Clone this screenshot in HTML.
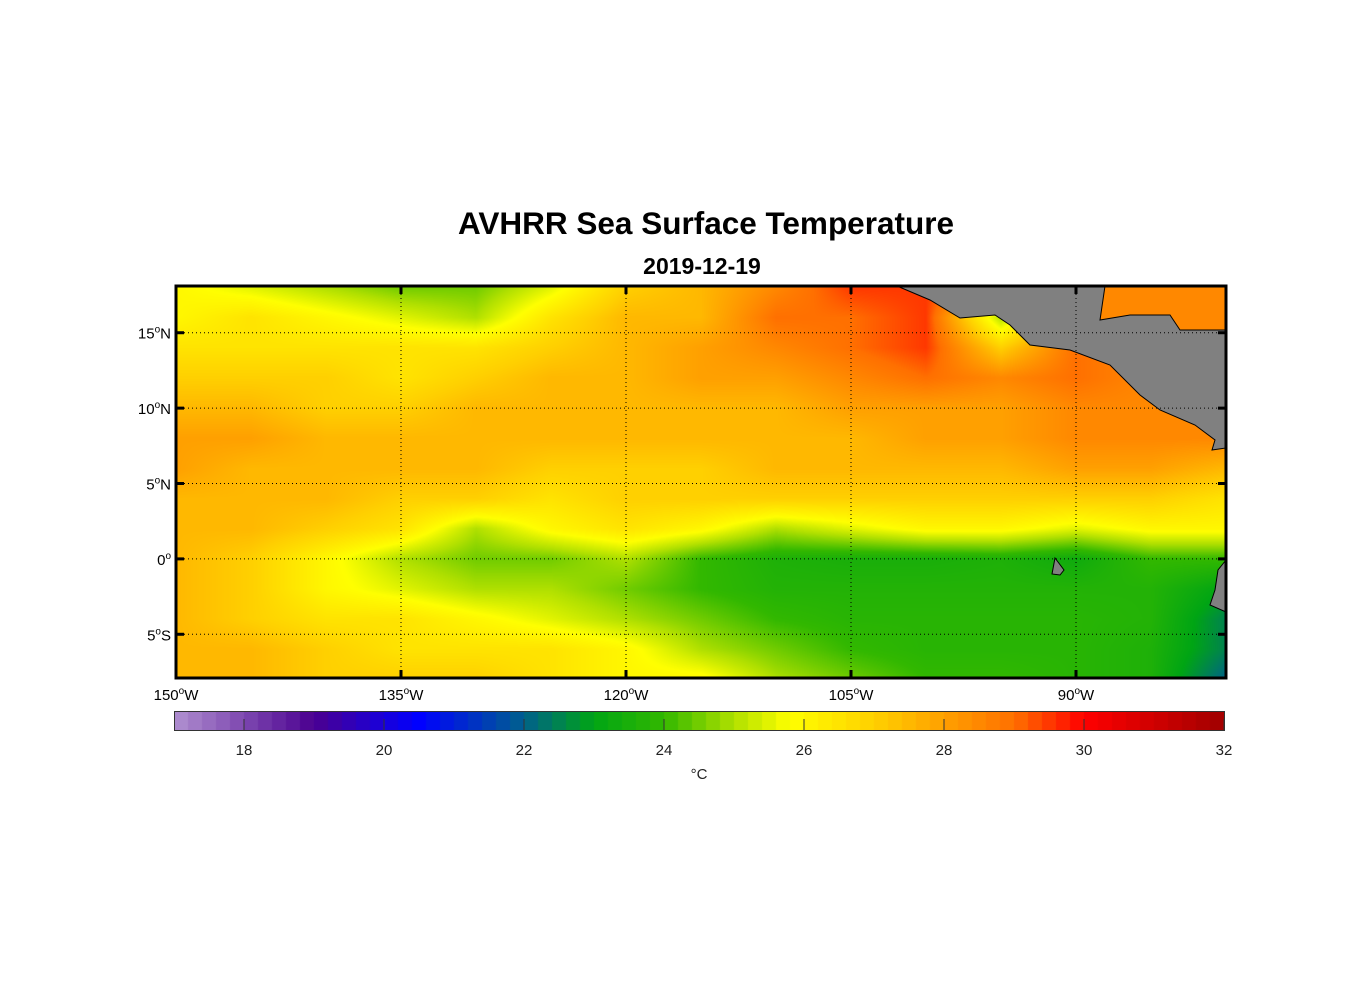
<!DOCTYPE html>
<html><head><meta charset="utf-8">
<style>
body{margin:0;background:#fff;width:1356px;height:1000px;position:relative;font-family:"Liberation Sans",Arial,sans-serif;overflow:hidden}
.t{position:absolute;color:#000}
</style></head><body>
<div class="t" style="left:0;width:1412px;text-align:center;top:205px;font-size:31.5px;font-weight:bold">AVHRR Sea Surface Temperature</div>
<div class="t" style="left:0;width:1404px;text-align:center;top:253px;font-size:23px;font-weight:bold">2019-12-19</div>
<canvas id="map" width="1050" height="392" style="position:absolute;left:176px;top:286px"></canvas>
<canvas id="cb" width="1050" height="19" style="position:absolute;left:174px;top:711px"></canvas>
<svg id="ov" width="1356" height="1000" style="position:absolute;left:0;top:0"></svg>
<script>
const lats=[18,16,14,12,10,8,6,4,2,0,-2,-4,-6,-8];
const lons=[-150,-145,-140,-135,-130,-125,-120,-115,-110,-105,-100,-95,-90,-85,-80];
const sst=[
[26,25.5,25,24.5,24.5,25.5,27,27.5,28.5,29.5,29.5,28.5,28.5,28.5,28.5],
[26,26.5,26,25.5,25,26.5,27.5,27.5,29,29,29.5,25,28.5,28.5,28.5],
[26.5,26.5,26.5,26.5,26.5,27,27.5,28,28.5,29,29.5,27,29,28.5,28.5],
[27,27,27,26.5,27,27.5,27.5,28,28,28.5,29,28.5,29,28.5,28],
[27.5,27.5,27,27,27.5,27.5,27.5,27.5,27.5,28,28,28,28.5,28.5,28.5],
[28,28,27.5,27.5,27.5,27.5,27.5,27.5,27.5,27.5,28,28,28.5,28.5,28.5],
[28,27.5,27.5,27.5,27.5,27,27,27,27.5,27.5,27.5,27.5,28,28,27.5],
[27.5,27.5,27.5,27,27,26.5,27,27,27,27,27,27,27,27,26.5],
[27.5,27.5,27,26.5,25,26,26.5,26,25,25.5,26,26,25.5,26,26],
[27.5,27,26,25,24.5,24.5,25,24,23.6,23.5,23.5,23.6,23.3,24,24],
[27.5,27,26,25.5,25,25,24.5,24,23.7,23.7,23.7,23.7,23.7,23.7,23],
[27.5,27,26.5,26.5,26,25.5,25,24.5,24,23.8,23.8,23.8,23.8,23.7,22.5],
[27.5,27.5,27,26.5,26.5,26.5,26,25,24.5,24,23.8,23.8,23.8,23.6,22.5],
[27.5,27.5,27,27,27,26.5,26,26,25,24.5,24,24,23.8,23.6,22]];
const cbTicks=[18,20,22,24,26,28,30,32];
const lonTicks=[-150,-135,-120,-105,-90];
const latTicks=[15,10,5,0,-5];
const stops=[[17,[176,144,208]],[19,[75,0,144]],[20.5,[0,0,255]],[22,[0,96,140]],[23,[0,165,20]],[24,[50,184,0]],[25,[176,224,0]],[25.8,[255,255,0]],[27,[255,208,0]],[28,[255,160,0]],[29,[255,112,0]],[30,[255,0,0]],[32,[160,0,0]]];
function cmap(v){if(v<=stops[0][0])return stops[0][1];for(let i=1;i<stops.length;i++){if(v<=stops[i][0]){const a=stops[i-1],b=stops[i],t=(v-a[0])/(b[0]-a[0]);return a[1].map((c,k)=>Math.round(c+(b[1][k]-c)*t));}}return stops[stops.length-1][1];}
const X0=176,X1=1226,Y0=286,Y1=678,LON0=-150,LON1=-80,LAT0=18.1,LAT1=-7.9;
const xS=l=>X0+(l-LON0)/(LON1-LON0)*(X1-X0);
const yS=l=>Y0+(LAT0-l)/(LAT0-LAT1)*(Y1-Y0);
(function(){const c=document.getElementById('map').getContext('2d');const W=1050,H=392;const img=c.createImageData(W,H);
for(let py=0;py<H;py++){const lat=LAT0-(py+.5)/H*(LAT0-LAT1);let fy=(lats[0]-lat)/(lats[0]-lats[1]);fy=Math.max(0,Math.min(lats.length-1.001,fy));const r=Math.floor(fy),ty=fy-r;
for(let px=0;px<W;px++){const lon=LON0+(px+.5)/W*(LON1-LON0);let fx=(lon-lons[0])/(lons[1]-lons[0]);fx=Math.max(0,Math.min(lons.length-1.001,fx));const q=Math.floor(fx),tx=fx-q;
const v=(sst[r][q]*(1-tx)+sst[r][q+1]*tx)*(1-ty)+(sst[r+1][q]*(1-tx)+sst[r+1][q+1]*tx)*ty;const col=cmap(v);const i=(py*W+px)*4;img.data[i]=col[0];img.data[i+1]=col[1];img.data[i+2]=col[2];img.data[i+3]=255;}}
c.putImageData(img,0,0);
const b=document.getElementById('cb').getContext('2d');const n=75;for(let k=0;k<n;k++){const v=17+(k+.5)*15/n;const col=cmap(v);b.fillStyle='rgb('+col.join(',')+')';b.fillRect(Math.floor(k*1050/n),0,Math.ceil(1050/n)+1,19);}})();
const NS='http://www.w3.org/2000/svg';const ov=document.getElementById('ov');
function el(t,a,p){const e=document.createElementNS(NS,t);for(const k in a)e.setAttribute(k,a[k]);(p||ov).appendChild(e);return e;}
let g=el('path',{d:'M897 286 L930 300 L960 318 L995 315 L1010 325 L1030 345 L1070 350 L1110 365 L1140 395 L1160 410 L1195 425 L1215 440 L1212 450 L1226 448 L1226 330 L1180 330 L1170 315 L1130 315 L1100 320 L1105 286 Z',fill:'#808080',stroke:'#000','stroke-width':1});


g=el('path',{d:'M1226 560 L1218 570 L1215 590 L1210 605 L1226 612 Z',fill:'#808080',stroke:'#000','stroke-width':1});


g=el('path',{d:'M1055 558 L1064 570 L1060 575 L1052 574 Z',fill:'#808080',stroke:'#000','stroke-width':1});


lonTicks.forEach(l=>{const x=xS(l);
let e=el('line',{x1:x,x2:x,y1:Y0,y2:Y1,stroke:'#000','stroke-width':1,'stroke-dasharray':'1,3'});


el('line',{x1:x,x2:x,y1:Y0,y2:Y0+8,stroke:'#000','stroke-width':3});el('line',{x1:x,x2:x,y1:Y1,y2:Y1-8,stroke:'#000','stroke-width':3});
const t=el('text',{x:x,y:700,'font-size':15,'text-anchor':'middle','font-family':'Liberation Sans'});t.innerHTML=Math.abs(l)+'<tspan dy="-6" font-size="10">o</tspan><tspan dy="6">W</tspan>';

});
latTicks.forEach(l=>{const y=yS(l);
let e=el('line',{x1:X0,x2:X1,y1:y,y2:y,stroke:'#000','stroke-width':1,'stroke-dasharray':'1,3'});


el('line',{x1:X0,x2:X0+8,y1:y,y2:y,stroke:'#000','stroke-width':3});el('line',{x1:X1,x2:X1-8,y1:y,y2:y,stroke:'#000','stroke-width':3});
const t=el('text',{x:171,y:y+6,'font-size':15,'text-anchor':'end','font-family':'Liberation Sans'});t.innerHTML=Math.abs(l)+'<tspan dy="-6" font-size="10">o</tspan><tspan dy="6">'+(l>0?'N':l<0?'S':'')+'</tspan>';

});
g=el('rect',{x:X0,y:Y0,width:X1-X0,height:Y1-Y0,fill:'none',stroke:'#000','stroke-width':3});


g=el('rect',{x:174.5,y:711.5,width:1050,height:19,fill:'none',stroke:'#333','stroke-width':1});


cbTicks.forEach(v=>{const x=174+(v-17)*70;el('line',{x1:x,x2:x,y1:719,y2:730,stroke:'#333','stroke-width':1});
const t=el('text',{x:x,y:755,'font-size':15,'text-anchor':'middle',fill:'#222','font-family':'Liberation Sans'});t.textContent=v;

});
g=el('text',{x:699,y:779,'font-size':15,'text-anchor':'middle',fill:'#222','font-family':'Liberation Sans'});g.textContent='°C';


</script>
</body></html>
